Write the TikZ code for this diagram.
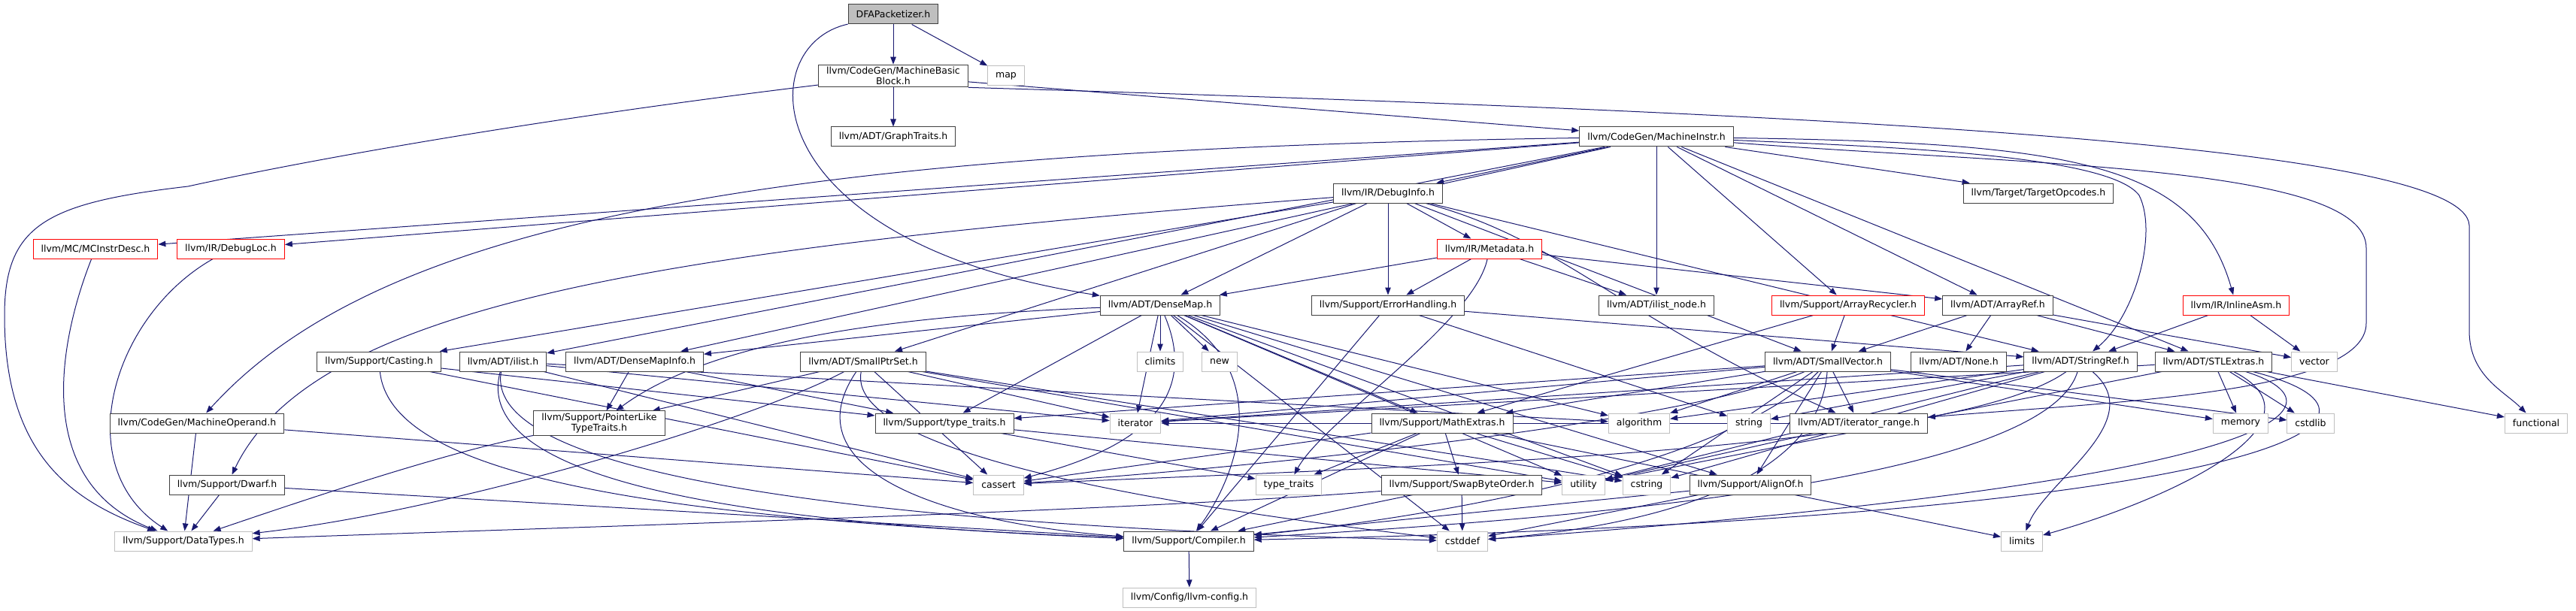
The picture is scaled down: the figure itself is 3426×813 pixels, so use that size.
\documentclass[tikz,border=0pt]{standalone}
\usepackage{fontspec}
\setmainfont{DejaVu Sans}
\usepackage{xcolor}
\usepackage{tikz}
\usetikzlibrary{arrows.meta, backgrounds}
\definecolor{edgeblue}{HTML}{191970}
\definecolor{boxline}{HTML}{404040}
\definecolor{sysline}{HTML}{BFBFBF}
\definecolor{rootfill}{HTML}{BFBFBF}
\tikzset{
  hdr/.style={draw=boxline, fill=white, line width=1pt, align=center,
              inner xsep=10.5pt, inner ysep=3pt, minimum height=26pt,
              font=\fontsize{12.5}{14}\selectfont},
  nodoc/.style={hdr, draw=red},
  sys/.style={hdr, draw=sysline},
  rootbox/.style={hdr, fill=rootfill},
  ar/.style={-{Triangle[length=10pt, width=7.5pt]}, line width=1pt, edgeblue},
}

\begin{document}
\begin{tikzpicture}[x=1pt, y=-1pt]
  \useasboundingbox (0,0) rectangle (3426,813);

  % top rows
  \node[rootbox] (dfa) at (1188,19) {DFAPacketizer.h};
  \node[hdr] (mbb) at (1188,101) {llvm/CodeGen/MachineBasic\\Block.h};
  \node[sys] (map) at (1338,101) {map};
  \node[hdr] (gtraits) at (1188,182) {llvm/ADT/GraphTraits.h};
  \node[hdr] (minstr) at (2203,182) {llvm/CodeGen/MachineInstr.h};
  \node[hdr] (dinfo) at (1846,257) {llvm/IR/DebugInfo.h};
  \node[hdr] (topc) at (2711,257) {llvm/Target/TargetOpcodes.h};
  \node[nodoc] (mcdesc) at (127,331) {llvm/MC/MCInstrDesc.h};
  \node[nodoc] (dloc) at (307,331) {llvm/IR/DebugLoc.h};
  \node[nodoc] (meta) at (1981,331) {llvm/IR/Metadata.h};

  % middle rows
  \node[hdr] (dmap) at (1543,406) {llvm/ADT/DenseMap.h};
  \node[hdr] (errh) at (1846,406) {llvm/Support/ErrorHandling.h};
  \node[hdr] (ilnode) at (2203,406) {llvm/ADT/ilist\_node.h};
  \node[nodoc] (arecyc) at (2458,406) {llvm/Support/ArrayRecycler.h};
  \node[hdr] (aref) at (2657,406) {llvm/ADT/ArrayRef.h};
  \node[nodoc] (iasm) at (2974,406) {llvm/IR/InlineAsm.h};
  \node[hdr] (casting) at (504,481) {llvm/Support/Casting.h};
  \node[hdr] (ilist) at (669,481) {llvm/ADT/ilist.h};
  \node[hdr] (dminfo) at (844,481) {llvm/ADT/DenseMapInfo.h};
  \node[hdr] (sptrset) at (1148,481) {llvm/ADT/SmallPtrSet.h};
  \node[sys] (climits) at (1543,481) {climits};
  \node[sys] (new) at (1622,481) {new};
  \node[hdr] (svec) at (2431,481) {llvm/ADT/SmallVector.h};
  \node[hdr] (none) at (2605,481) {llvm/ADT/None.h};
  \node[hdr] (sref) at (2767,481) {llvm/ADT/StringRef.h};
  \node[hdr] (stlx) at (2944,481) {llvm/ADT/STLExtras.h};
  \node[sys] (vector) at (3078,481) {vector};
  \node[hdr] (plike) at (797,563) {llvm/Support/PointerLike\\TypeTraits.h};
  \node[hdr] (mop) at (262,563) {llvm/CodeGen/MachineOperand.h};
  \node[hdr] (lltraits) at (1256,563) {llvm/Support/type\_traits.h};
  \node[sys] (iterator) at (1510,563) {iterator};
  \node[hdr] (mathx) at (1918,563) {llvm/Support/MathExtras.h};
  \node[sys] (algorithm) at (2180,563) {algorithm};
  \node[sys] (string) at (2326,563) {string};
  \node[hdr] (irange) at (2472,563) {llvm/ADT/iterator\_range.h};
  \node[sys] (memory) at (2980,563) {memory};
  \node[sys] (cstdlib) at (3073,563) {cstdlib};
  \node[sys] (functional) at (3373,563) {functional};

  % bottom rows
  \node[hdr] (dwarf) at (302,645) {llvm/Support/Dwarf.h};
  \node[sys] (cassert) at (1328,645) {cassert};
  \node[sys] (stdtraits) at (1714,645) {type\_traits};
  \node[hdr] (swapbo) at (1944,645) {llvm/Support/SwapByteOrder.h};
  \node[sys] (utility) at (2106,645) {utility};
  \node[sys] (cstring) at (2190,645) {cstring};
  \node[hdr] (alignof) at (2328,645) {llvm/Support/AlignOf.h};
  \node[sys] (dtypes) at (244,720) {llvm/Support/DataTypes.h};
  \node[hdr] (compiler) at (1581,720) {llvm/Support/Compiler.h};
  \node[sys] (cstddef) at (1945,720) {cstddef};
  \node[sys] (limits) at (2689,720) {limits};
  \node[sys] (config) at (1582,795) {llvm/Config/llvm-config.h};

  \begin{scope}[on background layer]
  % DFAPacketizer.h
  \draw[ar] (dfa) -- (mbb);
  \draw[ar] (dfa) -- (map);
  \draw[ar] (dfa) .. controls (1000,60) and (1000,320) .. (dmap);
  % MachineBasicBlock.h
  \draw[ar] (mbb) -- (gtraits);
  \draw[ar] (mbb) -- (minstr);
  \draw[ar] (mbb) .. controls (700,160) and (400,215) .. (250,248)
                  .. controls (60,270) and (6,300) .. (6,420)
                  .. controls (6,600) and (90,665) .. (dtypes);
  \draw[ar] (mbb.south east) .. controls (2400,150) and (3280,190) .. (3284,300)
                  -- (3284,440) .. controls (3284,500) and (3330,520) .. (functional);
  % MachineInstr.h
  \draw[ar] (minstr) -- (mcdesc);
  \draw[ar] (minstr) -- (dloc);
  \draw[ar] (minstr) -- (dinfo);
  \draw[ar] (minstr) .. controls (1000,200) and (500,300) .. (mop);
  \draw[ar] (minstr) -- (dminfo);
  \draw[ar] (minstr) -- (ilist);
  \draw[ar] (minstr) -- (ilnode);
  \draw[ar] (minstr) -- (arecyc);
  \draw[ar] (minstr) -- (aref);
  \draw[ar] (minstr) .. controls (2500,195) and (2805,205) .. (2845,260)
                     .. controls (2870,310) and (2840,420) .. (sref);
  \draw[ar] (minstr) -- (stlx);
  \draw[ar] (minstr) -- (topc);
  \draw[ar] (minstr) .. controls (2750,190) and (2920,215) .. (iasm);
  \draw[ar] (minstr) .. controls (2700,220) and (3147,220) .. (3147,330)
                     -- (3147,430) .. controls (3147,525) and (2800,535) .. (irange);
  % DebugInfo.h
  \draw[ar] (dinfo) -- (meta);
  \draw[ar] (dinfo) -- (errh);
  \draw[ar] (dinfo) -- (dmap);
  \draw[ar] (dinfo) -- (sptrset);
  \draw[ar] (dinfo) -- (svec);
  \draw[ar] (dinfo) -- (sref);
  \draw[ar] (dinfo) .. controls (2080,320) and (2150,420) .. (irange);
  \draw[ar] (dinfo) -- (casting);
  \draw[ar] (dinfo) .. controls (900,330) and (420,400) .. (dwarf);
  % Metadata.h
  \draw[ar] (meta) -- (dmap);
  \draw[ar] (meta) -- (errh);
  \draw[ar] (meta) -- (ilnode);
  \draw[ar] (meta) -- (aref);
  \draw[ar] (meta) .. controls (1960,430) and (1760,560) .. (stdtraits);
  % ErrorHandling.h
  \draw[ar] (errh) -- (compiler);
  \draw[ar] (errh) -- (string);
  \draw[ar] (errh) -- (sref);
  % DenseMap.h
  \draw[ar] (dmap) -- (dminfo);
  \draw[ar] (dmap) .. controls (1200,420) and (950,450) .. (plike);
  \draw[ar] (dmap) -- (lltraits);
  \draw[ar] (dmap) -- (climits);
  \draw[ar] (dmap) -- (new);
  \draw[ar] (dmap) -- (iterator);
  \draw[ar] (dmap) .. controls (1600,540) and (1500,600) .. (cassert);
  \draw[ar] (dmap) .. controls (1700,500) and (1640,640) .. (compiler);
  \draw[ar] (dmap) -- (mathx);
  \draw[ar] (dmap) -- (alignof);
  \draw[ar] (dmap) -- (algorithm);
  \draw[ar] (dmap) -- (cstring);
  \draw[ar] (dmap) -- (utility);
  \draw[ar] (dmap) -- (cstddef);
  % DenseMapInfo.h, PointerLikeTypeTraits.h, Casting.h
  \draw[ar] (dminfo) -- (plike);
  \draw[ar] (dminfo) -- (lltraits);
  \draw[ar] (plike) .. controls (600,600) and (420,660) .. (dtypes);
  \draw[ar] (casting) -- (lltraits);
  \draw[ar] (casting) -- (cassert);
  \draw[ar] (casting) .. controls (520,640) and (900,690) .. (compiler);
  % ilist.h
  \draw[ar] (ilist) -- (iterator);
  \draw[ar] (ilist) -- (cassert);
  \draw[ar] (ilist) .. controls (640,640) and (1200,700) .. (cstddef);
  \draw[ar] (ilist) .. controls (620,660) and (1100,700) .. (compiler);
  \draw[ar] (ilist) -- (algorithm);
  % SmallPtrSet.h
  \draw[ar] (sptrset) -- (plike);
  \draw[ar] (sptrset) .. controls (1000,560) and (600,680) .. (dtypes);
  \draw[ar] (sptrset) -- (cassert);
  \draw[ar] (sptrset) .. controls (1040,640) and (1300,700) .. (compiler);
  \draw[ar] (sptrset) .. controls (1120,620) and (1700,690) .. (cstddef);
  \draw[ar] (sptrset) -- (iterator);
  \draw[ar] (sptrset) -- (utility);
  \draw[ar] (sptrset) -- (cstring);
  % type_traits.h
  \draw[ar] (lltraits) -- (stdtraits);
  \draw[ar] (lltraits) -- (utility);
  % ArrayRecycler.h, ArrayRef.h, InlineAsm.h
  \draw[ar] (arecyc) -- (svec);
  \draw[ar] (arecyc) -- (mathx);
  \draw[ar] (aref) -- (none);
  \draw[ar] (aref) -- (svec);
  \draw[ar] (aref) -- (vector);
  \draw[ar] (aref) -- (stlx);
  \draw[ar] (iasm) -- (sref);
  \draw[ar] (iasm) -- (vector);
  % SmallVector.h
  \draw[ar] (svec) -- (irange);
  \draw[ar] (svec) -- (algorithm);
  \draw[ar] (svec) -- (mathx);
  \draw[ar] (svec) -- (memory);
  \draw[ar] (svec) -- (cstdlib);
  \draw[ar] (svec) .. controls (2250,560) and (1700,620) .. (cassert);
  \draw[ar] (svec) -- (cstring);
  \draw[ar] (svec) -- (alignof);
  \draw[ar] (svec) .. controls (2300,620) and (1900,690) .. (compiler);
  \draw[ar] (svec) .. controls (2420,640) and (2200,700) .. (cstddef);
  \draw[ar] (svec) -- (iterator);
  \draw[ar] (svec) -- (lltraits);
  % StringRef.h
  \draw[ar] (sref) -- (iterator);
  \draw[ar] (sref) -- (algorithm);
  \draw[ar] (sref) -- (string);
  \draw[ar] (sref) .. controls (2600,600) and (1900,620) .. (cassert);
  \draw[ar] (sref) -- (cstring);
  \draw[ar] (sref) -- (utility);
  \draw[ar] (sref) .. controls (2720,640) and (2100,690) .. (compiler);
  \draw[ar] (sref) .. controls (2860,560) and (2720,640) .. (limits);
  % STLExtras.h
  \draw[ar] (stlx) -- (memory);
  \draw[ar] (stlx) -- (cstdlib);
  \draw[ar] (stlx) -- (functional);
  \draw[ar] (stlx) .. controls (3130,540) and (3050,640) .. (cstddef);
  \draw[ar] (stlx) -- (utility);
  \draw[ar] (stlx) .. controls (3250,560) and (3000,690) .. (compiler);
  \draw[ar] (stlx) -- (iterator);
  \draw[ar] (stlx) .. controls (3100,560) and (2900,660) .. (limits);
  % MathExtras.h, SwapByteOrder.h, AlignOf.h, iterator_range.h
  \draw[ar] (mathx) -- (swapbo);
  \draw[ar] (mathx) -- (stdtraits);
  \draw[ar] (mathx) -- (cstring);
  \draw[ar] (mathx) -- (compiler);
  \draw[ar] (mathx) -- (cassert);
  \draw[ar] (mathx) -- (limits);
  \draw[ar] (swapbo) -- (compiler);
  \draw[ar] (swapbo) .. controls (1500,680) and (800,700) .. (dtypes);
  \draw[ar] (swapbo) -- (cstddef);
  \draw[ar] (alignof) -- (compiler);
  \draw[ar] (alignof) -- (cstddef);
  \draw[ar] (irange) -- (utility);
  \draw[ar] (irange) -- (iterator);
  % leaves on the left and bottom
  \draw[ar] (compiler) -- (config);
  \draw[ar] (dwarf) -- (dtypes);
  \draw[ar] (dwarf) -- (compiler);
  \draw[ar] (mop) -- (dtypes);
  \draw[ar] (mop) -- (cassert);
  \draw[ar] (mcdesc) .. controls (80,450) and (40,640) .. (dtypes);
  \draw[ar] (dloc) .. controls (150,420) and (90,620) .. (dtypes);
  \end{scope}
\end{tikzpicture}
\end{document}
